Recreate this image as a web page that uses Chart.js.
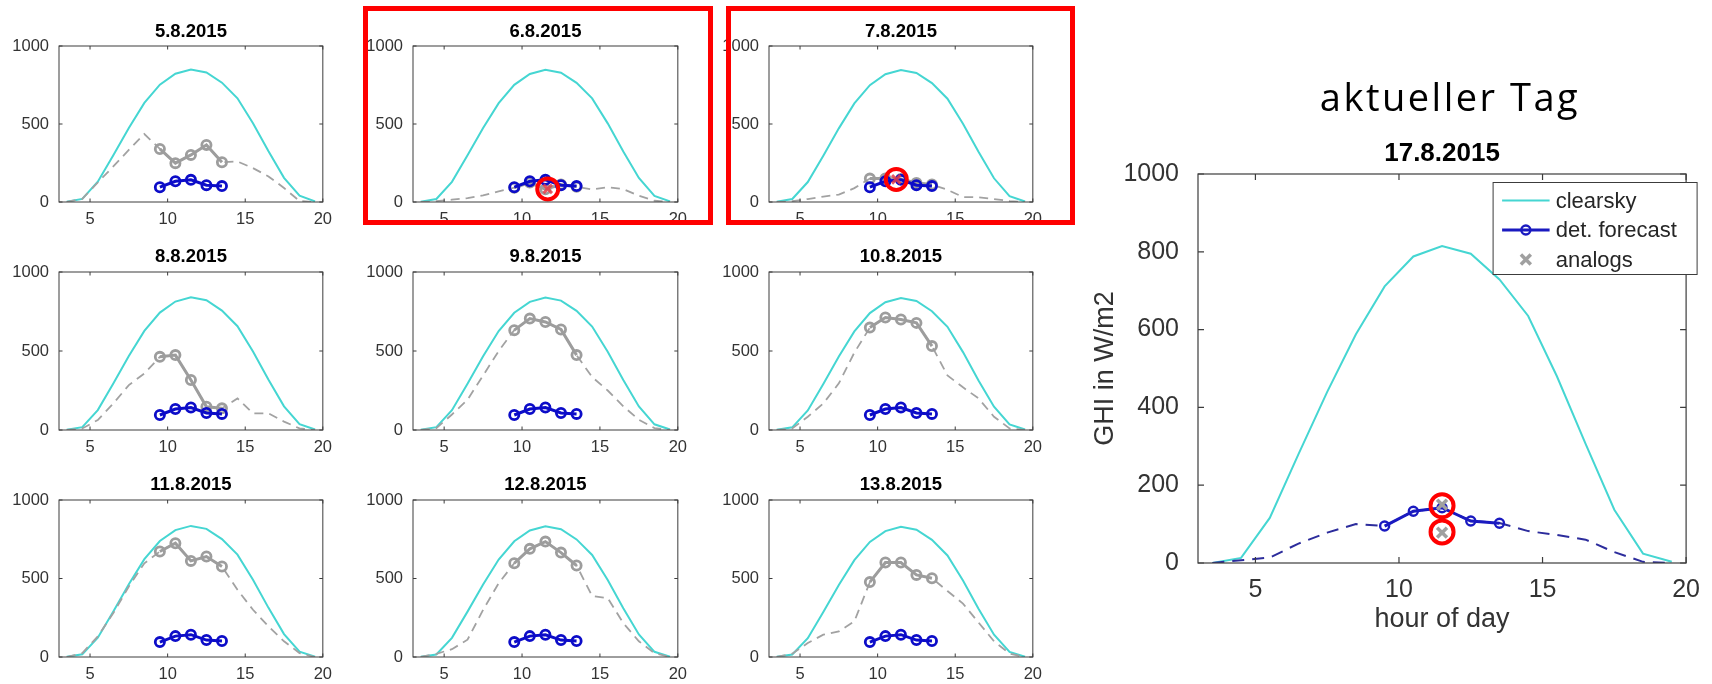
<!DOCTYPE html>
<html><head><meta charset="utf-8">
<script src="https://cdn.jsdelivr.net/npm/chart.js@4.4.0/dist/chart.umd.min.js"></script>
<style>
html,body{margin:0;padding:0;background:#fff;}
body{width:1712px;height:684px;position:relative;overflow:hidden;}
canvas{position:absolute;}
.hl{position:absolute;border:5px solid #ff0000;box-sizing:border-box;pointer-events:none;z-index:5;}
#heading{position:absolute;left:1250px;width:400px;top:71px;line-height:50px;text-align:center;font-family:"Open Sans",sans-serif;font-size:38px;letter-spacing:2.5px;color:#000;z-index:6;}
</style></head><body>
<div id="heading">aktueller Tag</div>
<div class="hl" style="left:363px;top:6px;width:350px;height:219px;"></div>
<div class="hl" style="left:726px;top:6px;width:349px;height:219px;"></div>
<script>
// ---------------- DATA ----------------
const hours = [3.5,4.5,5.5,6.5,7.5,8.5,9.5,10.5,11.5,12.5,13.5,14.5,15.5,16.5,17.5,18.5,19.5];
const forecastHours = [9.5,10.5,11.5,12.5,13.5];
const xTickValues = [5,10,15,20];
const yTickValuesSmall = [0,500,1000];
const yTickValuesMain = [0,200,400,600,800,1000];

const dayTitles = ['5.8.2015','6.8.2015','7.8.2015','8.8.2015','9.8.2015','10.8.2015','11.8.2015','12.8.2015','13.8.2015'];
const mainTitle = '17.8.2015';

// det. forecast of the current day (same in every panel)
const detForecast = [95,133,142,108,102];

// clearsky GHI of each analog day
const clearsky_05_08 = [2,20,130,300,475,635,752,822,849,830,765,665,505,325,155,40,4];
const clearsky_06_08 = [2,19,129,299,474,634,751,821,848,829,764,664,504,324,154,39,4];
const clearsky_07_08 = [2,19,128,297,472,632,749,819,846,827,762,662,502,322,152,38,3];
const clearsky_08_08 = [1,18,126,294,468,627,743,813,840,821,756,657,497,318,150,37,3];
const clearsky_09_08 = [1,18,125,293,467,626,742,811,838,819,754,655,495,316,149,36,3];
const clearsky_10_08 = [1,17,124,291,465,624,740,809,836,817,752,653,493,314,147,35,3];
const clearsky_11_08 = [1,17,123,290,464,623,739,808,835,816,751,652,492,313,146,34,2];
const clearsky_12_08 = [1,16,122,289,462,621,737,806,833,814,749,650,490,311,144,33,2];
const clearsky_13_08 = [1,16,120,286,459,617,733,802,830,811,746,647,487,308,142,32,2];

// measured GHI of each analog day (dashed grey)
const measured_05_08 = [0,20,125,228,334,436,340,249,302,366,255,260,217,164,90,6,0];
const measured_06_08 = [0,5,15,25,42,68,92,125,82,112,98,80,95,83,40,8,0];
const measured_07_08 = [0,5,19,35,47,89,150,150,148,122,112,78,32,30,19,6,0];
const measured_08_08 = [0,10,63,168,284,358,463,474,316,147,137,200,105,105,53,10,0];
const measured_09_08 = [0,12,98,192,345,500,632,705,684,636,474,335,250,150,65,12,0];
const measured_10_08 = [0,10,84,168,295,490,648,712,699,678,531,345,270,200,84,10,0];
const measured_11_08 = [0,25,131,280,449,597,672,725,612,640,576,428,301,195,100,25,0];
const measured_12_08 = [0,20,50,110,300,470,597,689,735,665,583,388,375,216,100,25,0];
const measured_13_08 = [0,21,89,142,163,227,477,602,602,523,502,420,340,220,100,22,0];

// forecast of each analog day (grey circles)
const analogForecast_05_08 = [340,249,302,366,255];
const analogForecast_06_08 = [92,125,82,112,98];
const analogForecast_07_08 = [150,150,148,122,112];
const analogForecast_08_08 = [463,474,316,147,137];
const analogForecast_09_08 = [632,705,684,636,474];
const analogForecast_10_08 = [648,712,699,678,531];
const analogForecast_11_08 = [672,725,612,640,576];
const analogForecast_12_08 = [597,689,735,665,583];
const analogForecast_13_08 = [477,602,602,523,502];

// selected analogs (highlighted in red)
const selectedHours_06_08 = [11.65];
const selectedValues_06_08 = [84];
const selectedHours_07_08 = [11.2];
const selectedValues_07_08 = [145];

// current day 17.8.2015
const clearsky_17_08 = [0,13,116,280,440,588,711,788,815,795,729,635,480,306,137,24,3];
const measured_17_08 = [0,7,14,50,78,100,95,133,142,108,103,82,72,60,28,3,0];
const analogHours = [11.5,11.5];
const analogValues = [150,78];
const circledHours = [11.5,11.5];
const circledValues = [147,80];

// ---------------- STYLE / LAYOUT ----------------
const FONT = '"Liberation Sans", Arial, sans-serif';
const CYAN = '#45d6d2';
const BLUE = '#0c0cc8';
const GREY = '#9d9d9d';
const RED = '#ff0000';
const AXIS = '#3c3c3c';
const TXT = '#333333';

const colLeft = [59,413,769], colRight = [328,683,1038];
const rowTop = [46,272,500], rowBottom = [202,430,657];
const rowTitleOff = [14,15,15];

const pts = (xs, ys) => xs.map((x,i)=>({x, y: ys[i]}));

const boxPlugin = {
  id: 'matlabBox',
  afterDatasetsDraw(chart, args, opts) {
    const {ctx, chartArea: a, scales: {x, y}} = chart;
    ctx.save();
    ctx.strokeStyle = opts.color; ctx.lineWidth = opts.width;
    ctx.strokeRect(a.left, a.top, a.right - a.left, a.bottom - a.top);
    const L = opts.tick;
    ctx.beginPath();
    x.ticks.forEach(t => {
      const p = x.getPixelForValue(t.value);
      ctx.moveTo(p, a.bottom); ctx.lineTo(p, a.bottom - L);
      ctx.moveTo(p, a.top); ctx.lineTo(p, a.top + L);
    });
    y.ticks.forEach(t => {
      const p = y.getPixelForValue(t.value);
      ctx.moveTo(a.left, p); ctx.lineTo(a.left + L, p);
      ctx.moveTo(a.right, p); ctx.lineTo(a.right - L, p);
    });
    ctx.stroke();
    ctx.restore();
  }
};

function drawMarker(ctx, style, x, y, r, color, bw) {
  ctx.save();
  ctx.strokeStyle = color; ctx.lineWidth = bw;
  ctx.beginPath();
  if (style === 'crossRot') {
    const d = r * Math.SQRT1_2;
    ctx.moveTo(x-d,y-d); ctx.lineTo(x+d,y+d);
    ctx.moveTo(x-d,y+d); ctx.lineTo(x+d,y-d);
  } else {
    ctx.arc(x, y, r, 0, Math.PI*2);
  }
  ctx.stroke();
  ctx.restore();
}

const legendPlugin = {
  id: 'boxLegend',
  afterDraw(chart, args, o) {
    if (!o.show) return;
    const {ctx, chartArea: a} = chart;
    const left = a.right + o.dxLeft, right = a.right + o.dxRight, top = a.top + o.dyTop, bottom = top + o.height;
    ctx.save();
    ctx.fillStyle = '#fff';
    ctx.fillRect(left, top, right-left, bottom-top);
    ctx.strokeStyle = AXIS; ctx.lineWidth = 1;
    ctx.strokeRect(left, top, right-left, bottom-top);
    const items = chart.data.datasets.filter(d => d.legend);
    ctx.font = o.fontSize + 'px ' + FONT;
    ctx.textBaseline = 'middle';
    ctx.fillStyle = '#262626';
    items.forEach((d, i) => {
      const yy = top + o.rowStart + i * o.rowGap;
      const x0 = left + o.sample0, x1 = left + o.sample1, xm = (x0 + x1) / 2;
      if (d.showLine !== false) {
        ctx.save();
        ctx.strokeStyle = d.borderColor; ctx.lineWidth = d.borderWidth;
        ctx.beginPath(); ctx.moveTo(x0, yy); ctx.lineTo(x1, yy); ctx.stroke();
        ctx.restore();
      }
      if (d.pointRadius > 0) {
        drawMarker(ctx, d.pointStyle || 'circle', xm, yy, d.pointRadius, d.pointBorderColor, d.pointBorderWidth);
      }
      ctx.fillText(d.label, left + o.textX, yy + 1);
    });
    ctx.restore();
  }
};

function makeCanvas(left, top, w, h) {
  const c = document.createElement('canvas');
  c.width = w; c.height = h;
  c.style.left = left + 'px'; c.style.top = top + 'px';
  c.style.width = w + 'px'; c.style.height = h + 'px';
  document.body.appendChild(c);
  return c;
}

function axisCfg(min, max, tickVals, fit, fontSize, pad, isX, titleText, titlePad, titleSize) {
  const cfg = {
    type: 'linear', min, max,
    afterBuildTicks: s => { s.ticks = tickVals.map(v => ({value: v})); },
    afterFit: s => { if (isX) s.height = fit; else s.width = fit; },
    grid: {display: false, drawTicks: false},
    border: {display: false},
    ticks: {padding: pad, color: TXT, font: {family: FONT, size: fontSize}, callback: v => String(v), maxRotation: 0, autoSkip: false}
  };
  if (titleText) cfg.title = {display: true, text: titleText, color: TXT, font: {family: FONT, size: titleSize}, padding: titlePad};
  return cfg;
}

function smallPanel(idx, cs, meas, ana, selH, selV) {
  const col = idx % 3, row = Math.floor(idx / 3);
  const L = colLeft[col], R = colRight[col], T = rowTop[row], B = rowBottom[row];
  const canvas = makeCanvas(L - 59, T - 40, (R - L) + 59 + 12, (B - T) + 70);
  const lh = 18.5 * 1.2;
  const padTop = 40 - rowTitleOff[row] - lh / 2;
  const datasets = [
    {label: 'clearsky', data: pts(hours, cs), borderColor: CYAN, borderWidth: 2, pointRadius: 0, order: 6},
    {label: 'measured', data: pts(hours, meas), borderColor: '#a2a2a2', borderWidth: 1.8, borderDash: [9,6], pointRadius: 0, order: 5},
    {label: 'analog forecast', data: pts(forecastHours, ana), borderColor: GREY, borderWidth: 3, pointRadius: 4.6, pointBorderWidth: 2.8, pointBorderColor: GREY, pointBackgroundColor: 'rgba(0,0,0,0)', order: 4},
    {label: 'det. forecast', data: pts(forecastHours, detForecast), borderColor: BLUE, borderWidth: 3, pointRadius: 4.6, pointBorderWidth: 2.8, pointBorderColor: BLUE, pointBackgroundColor: 'rgba(0,0,0,0)', order: 3}
  ];
  if (selH) {
    datasets.push({label: 'selected analog', data: pts(selH, selV), showLine: false, pointStyle: 'crossRot', pointRadius: 6, pointBorderWidth: 3, pointBorderColor: 'rgba(232,60,70,0.85)', order: 2, clip: false});
    datasets.push({label: 'highlight', data: pts(selH, selV), showLine: false, pointStyle: 'circle', pointRadius: 10.5, pointBorderWidth: 4, pointBorderColor: RED, pointBackgroundColor: 'rgba(0,0,0,0)', order: 1, clip: false});
  }
  new Chart(canvas, {
    type: 'line',
    data: {datasets},
    options: {
      responsive: false, animation: false, events: [],
      layout: {padding: {left: 0, right: 12, top: 0, bottom: 0}, autoPadding: false},
      elements: {line: {tension: 0}},
      plugins: {
        legend: {display: false}, tooltip: {enabled: false},
        title: {display: true, fullSize: false, text: dayTitles[idx], color: '#000', font: {family: FONT, size: 18.5, weight: 'bold', lineHeight: 1.2}, padding: {top: padTop, bottom: 40 - padTop - lh}},
        matlabBox: {color: AXIS, width: 1, tick: 3.5},
        boxLegend: {show: false}
      },
      scales: {
        x: axisCfg(3, 20, xTickValues, 30, 16.5, 8, true),
        y: axisCfg(0, 1000, yTickValuesSmall, 59, 16.5, 10, false)
      }
    },
    plugins: [boxPlugin, legendPlugin]
  });
}

smallPanel(0, clearsky_05_08, measured_05_08, analogForecast_05_08);
smallPanel(1, clearsky_06_08, measured_06_08, analogForecast_06_08, selectedHours_06_08, selectedValues_06_08);
smallPanel(2, clearsky_07_08, measured_07_08, analogForecast_07_08, selectedHours_07_08, selectedValues_07_08);
smallPanel(3, clearsky_08_08, measured_08_08, analogForecast_08_08);
smallPanel(4, clearsky_09_08, measured_09_08, analogForecast_09_08);
smallPanel(5, clearsky_10_08, measured_10_08, analogForecast_10_08);
smallPanel(6, clearsky_11_08, measured_11_08, analogForecast_11_08);
smallPanel(7, clearsky_12_08, measured_12_08, analogForecast_12_08);
smallPanel(8, clearsky_13_08, measured_13_08, analogForecast_13_08);

// main chart: plot area 1198..1690 x 174..563
(function () {
  const canvas = makeCanvas(1080, 100, 632, 536);
  new Chart(canvas, {
    type: 'line',
    data: {datasets: [
      {label: 'clearsky', legend: true, data: pts(hours, clearsky_17_08), borderColor: CYAN, borderWidth: 2, pointRadius: 0, order: 6},
      {label: 'det. forecast', legend: true, data: pts(forecastHours, detForecast), borderColor: '#1a1ac0', borderWidth: 3, pointStyle: 'circle', pointRadius: 4.5, pointBorderWidth: 2.4, pointBorderColor: '#1a1ac0', pointBackgroundColor: 'rgba(0,0,0,0)', order: 3},
      {label: 'analogs', legend: true, data: pts(analogHours, analogValues), showLine: false, pointStyle: 'crossRot', pointRadius: 7, pointBorderWidth: 3.5, pointBorderColor: '#a0a0a0', order: 2},
      {label: 'measured', data: pts(hours, measured_17_08), borderColor: '#2c2c9c', borderWidth: 2, borderDash: [12,8], pointRadius: 0, order: 5},
      {label: 'highlight', data: pts(circledHours, circledValues), showLine: false, pointStyle: 'circle', pointRadius: 11.5, pointBorderWidth: 4, pointBorderColor: RED, pointBackgroundColor: 'rgba(0,0,0,0)', order: 1, clip: false}
    ]},
    options: {
      responsive: false, animation: false, events: [],
      layout: {padding: {left: 0, right: 22, top: 0, bottom: 0}, autoPadding: false},
      elements: {line: {tension: 0}},
      plugins: {
        legend: {display: false}, tooltip: {enabled: false},
        title: {display: true, fullSize: false, text: mainTitle, color: '#000', font: {family: FONT, size: 26, weight: 'bold', lineHeight: 1.2}, padding: {top: 38.4, bottom: 4.4}},
        matlabBox: {color: AXIS, width: 1.2, tick: 6},
        boxLegend: {show: true, dxLeft: -193, dxRight: 11, dyTop: 8.5, height: 92, rowStart: 18, rowGap: 29.5, sample0: 9, sample1: 56.5, textX: 62.6, fontSize: 22}
      },
      scales: {
        x: axisCfg(3, 20, xTickValues, 73, 25, 12, true, 'hour of day', {top: 0, bottom: 0}, 27),
        y: axisCfg(0, 1000, yTickValuesMain, 118, 25, 19, false, 'GHI in W/m2', {top: 9.8, bottom: 0}, 27)
      }
    },
    plugins: [boxPlugin, legendPlugin]
  });
})();
</script>
</body></html>
